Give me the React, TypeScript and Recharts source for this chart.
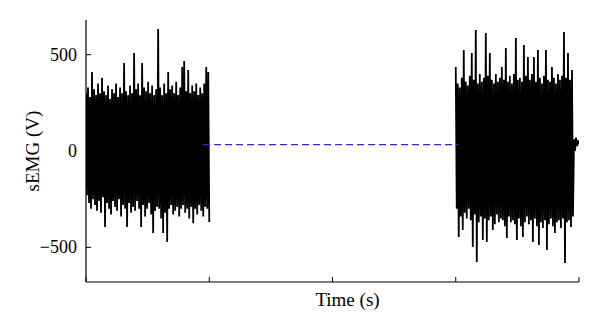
import React from 'react';
import { LineChart, Line, XAxis, YAxis, Label } from 'recharts';

// Sample timing (s)
const burst1Start = 0;
const burst2Start = 3;
const sampleStep = 1 / 123;

// sEMG amplitudes (alternating peaks / troughs)
const burst1Values = [
  300, -230, 330, -270, 280, -300, 410, -250, 320, -280, 290, -310, 350, -260, 300, -320,
  380, -240, 310, -395, 290, -270, 340, -300, 270, -330, 320, -260, 300, -290, 350, -310,
  280, -250, 330, -340, 300, -280, 457, -300, 310, -395, 290, -270, 340, -320, 300, -290,
  509, -310, 320, -260, 350, -300, 290, -395, 457, -280, 330, -340, 310, -300, 360, -270,
  300, -330, 340, -426, 290, -310, 320, -290, 633, -300, 330, -350, 290, -426, 350, -320,
  300, -472, 410, -300, 320, -280, 340, -330, 300, -310, 360, -290, 290, -340, 330, -300,
  436, -280, 467, -320, 310, -300, 420, -350, 300, -290, 340, -375, 310, -300, 350, -330,
  290, -280, 330, -310, 300, -340, 350, -290, 436, -300, 410, -369,
];

const burst2Values = [
  436, -300, 350, -446, 330, -340, 380, -410, 524, -320, 360, -350, 340, -300, 390, -360,
  509, -498, 370, -330, 628, -576, 350, -370, 400, -340, 360, -462, 380, -350, 613, -472,
  390, -360, 509, -340, 370, -410, 350, -380, 400, -330, 360, -370, 380, -350, 436, -360,
  370, -390, 535, -452, 360, -340, 390, -370, 350, -360, 400, -380, 587, -462, 370, -350,
  380, -390, 360, -446, 550, -370, 390, -340, 488, -380, 370, -360, 400, -472, 488, -350,
  360, -390, 524, -488, 380, -370, 350, -400, 390, -360, 524, -514, 370, -380, 360, -350,
  436, -390, 380, -426, 350, -370, 400, -360, 370, -400, 390, -350, 618, -581, 380, -370,
  509, -360, 370, -395, 420, -340, 60, 0, 70, 25, 55, 35,
];

const baselineTimes = [0.95, 3.02];
const baselineValue = 33;

const xTicks = [0, 1, 2, 3, 4];
const yTicks = [-500, 0, 500];

const toSeries = (start: number, values: number[]) =>
  values.map((v, i) => ({ t: start + i * sampleStep, v }));

const burst1Data = toSeries(burst1Start, burst1Values);
const burst2Data = toSeries(burst2Start, burst2Values);
const baselineData = baselineTimes.map((t) => ({ t, v: baselineValue }));

const FONT = '"Liberation Serif", "Times New Roman", serif';

const fmtY = (v: number) => (v < 0 ? '\u2212' + Math.abs(v) : String(v));

const YTick = (props: any) => {
  const { x, y, payload } = props;
  return (
    <g>
      <line x1={x + 9} x2={x + 14} y1={y} y2={y} stroke="#000" strokeWidth={1} />
      <text x={x} y={y} dy={6} textAnchor="end" fontFamily={FONT} fontSize={18} fill="#000">
        {fmtY(payload.value)}
      </text>
    </g>
  );
};

const XTick = (props: any) => {
  const { x, y } = props;
  return <line x1={x} x2={x} y1={y} y2={y - 5} stroke="#000" strokeWidth={1} />;
};

export default function App() {
  return (
    <LineChart width={592} height={321} margin={{ top: 12, right: 21, bottom: 0, left: 0 }}>
      <XAxis
        type="number"
        dataKey="t"
        domain={[0, 4]}
        ticks={xTicks}
        allowDataOverflow
        height={47}
        tickSize={0}
        tickMargin={0}
        tick={<XTick />}
        axisLine={{ stroke: '#000', strokeWidth: 1.2 }}
        tickLine={false}
      >
        <Label
          content={(p: any) => {
            const vb = p.viewBox || { x: 78, width: 493, y: 274 };
            return (
              <text
                x={vb.x + vb.width / 2 + 15}
                y={vb.y + 24}
                textAnchor="middle"
                fontFamily={FONT}
                fontSize={19}
                fill="#000"
              >
                Time (s)
              </text>
            );
          }}
        />
      </XAxis>
      <YAxis
        type="number"
        domain={[-680, 680]}
        ticks={yTicks}
        allowDataOverflow
        width={78}
        tickSize={0}
        tickMargin={9}
        tick={<YTick />}
        axisLine={{ stroke: '#000', strokeWidth: 1.2 }}
        tickLine={false}
      >
        <Label
          content={() => (
            <text
              transform="translate(31,143) rotate(-90)"
              textAnchor="middle"
              fontFamily={FONT}
              fontSize={19}
              fill="#000"
            >
              sEMG (V)
            </text>
          )}
        />
      </YAxis>
      <Line
        data={burst1Data}
        dataKey="v"
        stroke="#000"
        strokeWidth={1.8}
        strokeLinejoin="miter"
        dot={false}
        isAnimationActive={false}
      />
      <Line
        data={burst2Data}
        dataKey="v"
        stroke="#000"
        strokeWidth={1.8}
        strokeLinejoin="miter"
        dot={false}
        isAnimationActive={false}
      />
      <Line
        data={baselineData}
        dataKey="v"
        stroke="#2b2bd1"
        strokeWidth={1.3}
        strokeDasharray="7 4"
        dot={false}
        isAnimationActive={false}
      />
    </LineChart>
  );
}
